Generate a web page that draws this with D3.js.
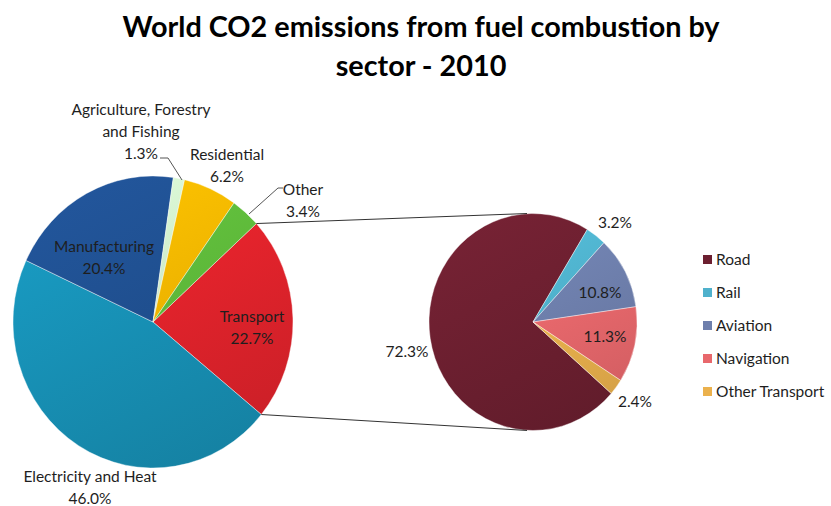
<!DOCTYPE html>
<html>
<head>
<meta charset="utf-8">
<script src="https://cdn.jsdelivr.net/npm/d3@7"></script>
<style>
  html, body { margin: 0; padding: 0; background: #fff; }
  svg { display: block; }
  text { font-family: Lato, "Open Sans", sans-serif; fill: #1e1e1e; }
</style>
</head>
<body>
<svg id="chart" width="831" height="506"></svg>
<script>
// ---------- DATA ----------
const titleLines = ["World CO2 emissions from fuel combustion by", "sector - 2010"];

const sectorNames = ["Transport", "Electricity and Heat", "Manufacturing", "Agriculture, Forestry and Fishing", "Residential", "Other"];
const sectorValues = [22.7, 46.0, 20.4, 1.3, 6.2, 3.4];
const sectorColors = ["#e0232b", "#1790b4", "#1f4f8f", "#cde8c8", "#f5b400", "#5db83a"];

const transportNames = ["Road", "Rail", "Aviation", "Navigation", "Other Transport"];
const transportValues = [72.3, 3.2, 10.8, 11.3, 2.4];
const transportColors = ["#6c1f30", "#4fb1cc", "#6e7fac", "#e8686c", "#ebb14d"];

// ---------- LAYOUT ----------
const svg = d3.select("#chart");
const defs = svg.append("defs");
const deg = Math.PI / 180;
const yStretch = 1.043;

// Title
svg.append("g").selectAll("text").data(titleLines).join("text")
  .attr("x", 421).attr("y", (d, i) => 37 + i * 39)
  .attr("text-anchor", "middle")
  .style("font-size", "28.8px").style("font-weight", "bold").style("fill", "#000")
  .text(d => d);

function gradient(id, color, r) {
  const c = d3.color(color);
  const g = defs.append("linearGradient").attr("id", id)
    .attr("gradientUnits", "userSpaceOnUse")
    .attr("x1", -r * 0.5).attr("y1", -r).attr("x2", r * 0.5).attr("y2", r);
  g.append("stop").attr("offset", "0%").attr("stop-color", c.brighter(0.25).formatHex());
  g.append("stop").attr("offset", "100%").attr("stop-color", c.darker(0.3).formatHex());
  return `url(#${id})`;
}

// ---------- LEFT PIE ----------
const L = { cx: 153, cy: 322, r: 140 };
const pieL = d3.pie().sort(null).value(d => d)
  .startAngle(47.6 * deg).endAngle(47.6 * deg + 2 * Math.PI);
const arcsL = pieL(sectorValues);
const arcL = d3.arc().innerRadius(0).outerRadius(L.r);
const gL = svg.append("g").attr("transform", `translate(${L.cx},${L.cy}) scale(1,${yStretch})`);
gL.selectAll("path").data(arcsL).join("path")
  .attr("d", arcL)
  .attr("fill", (d, i) => gradient("gl" + i, sectorColors[i], L.r))
  .attr("stroke", "#fff").attr("stroke-width", 0.4);

// ---------- RIGHT PIE ----------
const R = { cx: 533, cy: 322, r: 104 };
const pieR = d3.pie().sort(null).value(d => d)
  .startAngle(131.2 * deg).endAngle(131.2 * deg + 2 * Math.PI);
const arcsR = pieR(transportValues);
const arcR = d3.arc().innerRadius(0).outerRadius(R.r);
const gR = svg.append("g").attr("transform", `translate(${R.cx},${R.cy}) scale(1,${yStretch})`);
gR.selectAll("path").data(arcsR).join("path")
  .attr("d", arcR)
  .attr("fill", (d, i) => gradient("gr" + i, transportColors[i], R.r))
  .attr("stroke", "#fff").attr("stroke-width", 0.4);

// ---------- CONNECTOR LINES ----------
function pt(c, r, ang) {
  return [c.cx + r * Math.sin(ang), c.cy - r * Math.cos(ang) * yStretch];
}
const tStart = arcsL[0].startAngle, tEnd = arcsL[0].endAngle;
const p1 = pt(L, L.r, tStart), p2 = pt(L, L.r, tEnd);
const q1 = [R.cx - 6, R.cy - R.r * yStretch], q2 = [R.cx - 6, R.cy + R.r * yStretch];
svg.append("g").selectAll("line").data([[p1, q1], [p2, q2]]).join("line")
  .attr("x1", d => d[0][0]).attr("y1", d => d[0][1])
  .attr("x2", d => d[1][0]).attr("y2", d => d[1][1])
  .attr("stroke", "#333").attr("stroke-width", 1);

// ---------- LEFT LABELS ----------
const fs = "15.5px";
const leftLabels = [
  { lines: ["Transport", "22.7%"], x: 252, y: 322 },
  { lines: ["Electricity and Heat", "46.0%"], x: 90, y: 482 },
  { lines: ["Manufacturing", "20.4%"], x: 104, y: 252 },
  { lines: ["Agriculture, Forestry", "and Fishing", "1.3%"], x: 141, y: 115 },
  { lines: ["Residential", "6.2%"], x: 227, y: 160 },
  { lines: ["Other", "3.4%"], x: 303, y: 195 }
];
leftLabels.forEach((lab, k) => {
  lab.lines.forEach((t, j) => {
    svg.append("text")
      .attr("x", lab.x).attr("y", lab.y + j * 22)
      .attr("text-anchor", "middle")
      .style("font-size", fs)
      .text(j === lab.lines.length - 1 ? d3.format(".1f")(sectorValues[k]) + "%" : t);
  });
});
// Leader lines
const leaders = [
  [[160, 158], [168, 158], [182, 180]],
  [[283, 188], [278, 188], [249, 214]]
];
svg.append("g").selectAll("path").data(leaders).join("path")
  .attr("d", d => d3.line()(d))
  .attr("fill", "none").attr("stroke", "#555").attr("stroke-width", 1);

// ---------- RIGHT LABELS ----------
const rightLabelPos = [[407, 357], [615, 228], [600, 298], [605, 342], [635, 407]];
svg.append("g").selectAll("text").data(arcsR).join("text")
  .attr("x", (d, i) => rightLabelPos[i][0]).attr("y", (d, i) => rightLabelPos[i][1])
  .attr("text-anchor", "middle").style("font-size", fs)
  .text(d => d3.format(".1f")(d.data) + "%");

// ---------- LEGEND ----------
const leg = svg.append("g").attr("transform", "translate(703,260)");
const items = leg.selectAll("g").data(transportNames).join("g")
  .attr("transform", (d, i) => `translate(0,${i * 33})`);
items.append("rect").attr("x", 0).attr("y", -5).attr("width", 9).attr("height", 9)
  .attr("fill", (d, i) => transportColors[i]);
items.append("text").attr("x", 13).attr("y", 5).style("font-size", fs).text(d => d);
</script>
</body>
</html>
